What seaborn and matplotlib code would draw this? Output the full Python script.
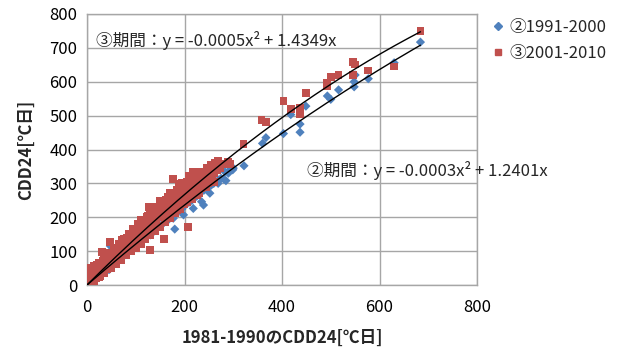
import numpy as np
import pandas as pd
import matplotlib
matplotlib.use("Agg")
import matplotlib.pyplot as plt
import seaborn as sns
from matplotlib.lines import Line2D

# ---- data ----
red_x = [1, 2, 3, 4, 5, 6, 7, 8, 9, 10,
         11, 12, 13, 14, 15, 16, 17, 18, 19, 20,
         22, 24, 26, 28, 30, 32, 34, 36, 38, 40,
         42, 44, 46, 47, 48, 50, 52, 54, 56, 58,
         60, 62, 64, 66, 68, 70, 72, 74, 76, 78,
         80, 82, 84, 86, 88, 90, 92, 94, 96, 98,
         100, 102, 104, 106, 108, 110, 112, 114, 116, 118,
         120, 122, 124, 126, 127, 128, 129, 130, 132, 134,
         136, 138, 140, 142, 144, 146, 148, 150, 152, 154,
         156, 158, 160, 162, 164, 166, 168, 170, 172, 174,
         176, 178, 180, 182, 184, 186, 188, 190, 192, 194,
         196, 198, 200, 202, 204, 206, 208, 210, 212, 214,
         216, 218, 220, 222, 224, 226, 228, 230, 232, 234,
         236, 238, 240, 242, 244, 246, 248, 250, 252, 254,
         256, 258, 260, 262, 264, 266, 268, 270, 272, 280, 290, 293,
         25, 45, 65, 85, 105, 125, 145, 165, 185, 205, 225, 30,
         5, 10, 15, 20, 25, 35, 45, 55, 65, 75, 85, 95, 105, 115,
         125, 135, 145, 155, 165, 185, 195, 205, 215, 225, 235, 245, 255,
         15, 25, 35, 50, 60, 70, 80, 90, 100, 110, 120, 130, 140,
         150, 160, 170, 180, 190, 200, 215, 230, 245, 260,
         110, 130, 150, 170, 190, 210, 230,
         321, 358, 367, 403, 418, 437, 437, 449, 493, 493, 500, 516,
         546, 550, 546, 577, 630, 684]
red_y = [3, 20, 45, 8, 30, 12, 40, 18, 50, 25,
         10, 35, 22, 48, 15, 38, 28, 55, 20, 42,
         30, 50, 25, 60, 45, 70, 38, 62, 55, 80,
         48, 75, 60, 128, 90, 65, 85, 70, 100, 78,
         95, 80, 110, 88, 118, 92, 132, 100, 115, 125,
         100, 140, 118, 128, 150, 120, 135, 160, 125, 145,
         150, 130, 170, 140, 175, 155, 185, 145, 165, 190,
         160, 200, 170, 180, 229, 150, 103, 210, 185, 195,
         175, 220, 200, 190, 230, 205, 215, 240, 200, 225,
         245, 135, 220, 250, 230, 260, 215, 270, 240, 255,
         314, 250, 265, 235, 280, 255, 290, 245, 270, 300,
         260, 285, 275, 250, 300, 270, 170, 290, 310, 265,
         295, 334, 280, 305, 290, 320, 270, 310, 300, 285,
         325, 305, 315, 290, 330, 310, 300, 335, 320, 340,
         315, 345, 330, 361, 350, 340, 365, 355, 345, 357, 362, 357,
         30, 55, 80, 105, 130, 152, 175, 200, 222, 245, 265, 98,
         45, 50, 55, 60, 65, 75, 95, 105, 120, 135, 150, 165, 180, 190,
         205, 215, 230, 240, 255, 280, 290, 305, 310, 325, 335, 345, 355,
         10, 22, 35, 50, 62, 75, 88, 100, 110, 122, 135, 148, 160,
         172, 185, 198, 212, 225, 238, 255, 272, 290, 305,
         192, 218, 248, 272, 298, 322, 335,
         415, 487, 481, 542, 519, 523, 504, 567, 597, 587, 613, 620,
         658, 651, 621, 633, 645, 751]

blue_x = [2, 5, 8, 10, 14, 18, 22, 26, 30, 34, 38, 42, 46, 48,
          50, 55, 60, 65, 70, 75, 80, 85, 90, 95, 100, 105, 110, 115,
          118, 120, 125, 130, 135, 140, 145, 150, 155, 160, 165, 170,
          175, 177, 180, 185, 190, 195, 198, 200, 205, 210, 215, 218,
          220, 225, 230, 235, 239, 240, 245, 250, 252, 255, 260, 265,
          269, 270, 275, 281, 283, 285, 290, 291, 299, 300, 322,
          360, 367, 403, 418, 437, 437, 449, 493, 500, 516, 548, 548,
          550, 577, 630, 684]
blue_y = [5, 3, 10, 15, 12, 20, 28, 25, 35, 40, 38, 50, 46, 115,
          58, 62, 70, 75, 82, 85, 92, 98, 105, 108, 118, 120, 128, 132,
          140, 138, 150, 148, 160, 163, 170, 175, 180, 188, 190, 200,
          205, 197, 165, 215, 222, 225, 207, 235, 240, 245, 250, 226,
          258, 262, 268, 246, 236, 280, 285, 290, 271, 295, 300, 305,
          300, 310, 315, 312, 334, 308, 330, 337, 340, 345, 352,
          418, 435, 447, 503, 475, 451, 528, 558, 548, 576, 600, 585,
          620, 609, 656, 717]

# trend-line coefficients shown on the chart (y = a*x^2 + b*x)
coef_p2 = [-0.0003, 1.2401]
coef_p3 = [-0.0005, 1.4349]
trend_xmax = 684

series_labels = ["②1991-2000", "③2001-2010"]
eq_p3 = "③期間：y = -0.0005x² + 1.4349x"
eq_p2 = "②期間：y = -0.0003x² + 1.2401x"
xlabel = "1981-1990のCDD24[℃日]"
ylabel = "CDD24[℃日]"
ticks = [0, 200, 400, 600, 800]
yticks = [0, 100, 200, 300, 400, 500, 600, 700, 800]

# ---- style ----
sns.set_style("white")
plt.rcParams["font.family"] = ["Noto Sans CJK JP", "DejaVu Sans"]

BLUE = "#4F81BD"
RED = "#C0504D"
GRID = "#A6A6A6"

fig = plt.figure(figsize=(6.17, 3.51), dpi=100)
ax = fig.add_axes([87 / 617, 1 - 285 / 351, 390 / 617, 271 / 351])

df_b = pd.DataFrame({"x": blue_x, "y": blue_y})
df_r = pd.DataFrame({"x": red_x, "y": red_y})

sns.scatterplot(data=df_b, x="x", y="y", ax=ax, marker="D", s=22,
                color=BLUE, edgecolor="none", linewidth=0, zorder=3)
sns.scatterplot(data=df_r, x="x", y="y", ax=ax, marker="s", s=32,
                color=RED, edgecolor="none", linewidth=0, zorder=4)

xs = np.linspace(0, trend_xmax, 200)
df_t2 = pd.DataFrame({"x": xs, "y": coef_p2[0] * xs ** 2 + coef_p2[1] * xs})
df_t3 = pd.DataFrame({"x": xs, "y": coef_p3[0] * xs ** 2 + coef_p3[1] * xs})
sns.lineplot(data=df_t2, x="x", y="y", ax=ax, color="black", linewidth=1.0, zorder=5)
sns.lineplot(data=df_t3, x="x", y="y", ax=ax, color="black", linewidth=1.0, zorder=5)

ax.set_xlim(0, 800)
ax.set_ylim(0, 800)
ax.set_xticks(ticks)
ax.set_yticks(yticks)
ax.tick_params(axis="both", labelsize=12, length=4, width=1, color=GRID,
               direction="out", pad=3, labelcolor="black")
ax.tick_params(axis="x", pad=6)
ax.grid(True, color=GRID, linewidth=1.0)
ax.set_axisbelow(True)
for side in ["left", "bottom", "top", "right"]:
    ax.spines[side].set_visible(True)
    ax.spines[side].set_color(GRID)
    ax.spines[side].set_linewidth(1.0)

ax.set_xlabel(xlabel, fontsize=12, fontweight="bold", labelpad=9)
ax.set_ylabel(ylabel, fontsize=12, fontweight="bold", labelpad=10)

ax.text(18, 723, eq_p3, fontsize=12, va="center", ha="left")
ax.text(451, 339, eq_p2, fontsize=12, va="center", ha="left", clip_on=False)

handles = [Line2D([], [], marker="D", linestyle="none", color=BLUE, markersize=4),
           Line2D([], [], marker="s", linestyle="none", color=RED, markersize=5)]
fig.legend(handles, series_labels, loc="upper left",
           bbox_to_anchor=(483 / 617, 1 - 12 / 351), frameon=False,
           fontsize=12, handletextpad=0.2, labelspacing=0.55,
           handlelength=1.0, borderaxespad=0)

fig.savefig("out.png", dpi=100)
